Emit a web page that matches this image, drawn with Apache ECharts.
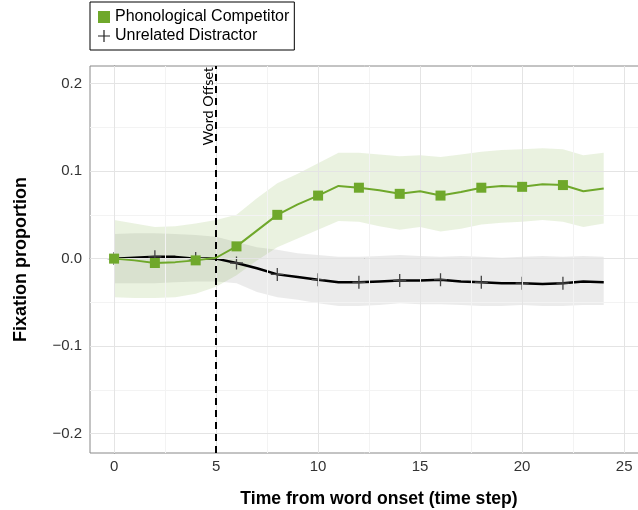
<!DOCTYPE html>
<html><head><meta charset="utf-8">
<script src="https://cdn.jsdelivr.net/npm/echarts@6/dist/echarts.min.js"></script>
<style>html,body{margin:0;padding:0;background:#fff}#c{width:638px;height:510px}</style>
</head><body><div id="c"></div>
<script>
// ---- data ----
const steps = [0,1,2,3,4,5,6,7,8,9,10,11,12,13,14,15,16,17,18,19,20,21,22,23,24];
const competitor      = [0, -0.002, -0.005, -0.004, -0.002, 0.001, 0.014, 0.032, 0.050, 0.062, 0.072, 0.083, 0.081, 0.078, 0.074, 0.077, 0.072, 0.076, 0.081, 0.083, 0.082, 0.085, 0.084, 0.077, 0.080];
const competitorUpper = [0.044, 0.040, 0.036, 0.037, 0.040, 0.044, 0.050, 0.069, 0.086, 0.097, 0.109, 0.121, 0.121, 0.119, 0.117, 0.118, 0.116, 0.119, 0.122, 0.124, 0.125, 0.126, 0.125, 0.118, 0.121];
const competitorLower = [-0.044, -0.045, -0.045, -0.044, -0.040, -0.032, -0.019, -0.002, 0.013, 0.023, 0.033, 0.043, 0.042, 0.037, 0.033, 0.036, 0.031, 0.034, 0.039, 0.041, 0.042, 0.044, 0.042, 0.036, 0.040];
const distractor      = [0, 0.001, 0.002, 0.002, 0.000, 0.000, -0.005, -0.011, -0.018, -0.021, -0.024, -0.027, -0.027, -0.026, -0.025, -0.025, -0.024, -0.026, -0.027, -0.028, -0.028, -0.029, -0.028, -0.026, -0.027];
const distractorUpper = [0.028, 0.029, 0.029, 0.028, 0.027, 0.025, 0.019, 0.013, 0.010, 0.006, 0.004, 0.002, 0.002, 0.003, 0.004, 0.003, 0.002, 0.003, 0.002, 0.001, 0.002, 0.003, 0.002, 0.003, 0.002];
const distractorLower = [-0.028, -0.028, -0.028, -0.027, -0.026, -0.026, -0.028, -0.038, -0.044, -0.047, -0.051, -0.054, -0.054, -0.053, -0.051, -0.052, -0.052, -0.053, -0.054, -0.054, -0.053, -0.054, -0.054, -0.053, -0.053];
const markerSteps = [0,2,4,6,8,10,12,14,16,18,20,22];
const wordOffset = 5;
const xTicks = [0,5,10,15,20,25];
const xMinor = [2.5,7.5,12.5,17.5,22.5,27.5];
const yTicks = [-0.2,-0.1,0,0.1,0.2];
const yMinor = [-0.15,-0.05,0.05,0.15];
const seriesNames = ['Phonological Competitor','Unrelated Distractor'];

// ---- build ----
const pairs = (arr) => steps.map((s,i)=>[s,arr[i]]);
const GREEN = '#6fa82b';
const PLUS = 'path://M4.5,0h1v10h-1z M0,4.5h10v1h-10z';
const fmtY = v => (v < 0 ? '\u2212' : '') + Math.abs(v).toFixed(1);

function bandSeries(upper, lower, color, z){
  return {
    type:'custom', z:z, silent:true,
    data:[0],
    encode:{x:-1, y:-1},
    renderItem:(params, api) => {
      const pts = [];
      steps.forEach((s,i)=>pts.push(api.coord([s, upper[i]])));
      for (let i = steps.length-1; i >= 0; i--) pts.push(api.coord([steps[i], lower[i]]));
      return {type:'polygon', shape:{points:pts}, style:{fill:color}};
    }
  };
}

const chart = echarts.init(document.getElementById('c'), null, {renderer:'canvas'});
chart.setOption({
  animation:false,
  backgroundColor:'#fff',
  textStyle:{fontFamily:'Liberation Sans, Arial, sans-serif'},
  grid:{left:90, top:66, width:578, height:387, outerBoundsMode:'none', containLabel:false,
        show:true, borderColor:'#888', borderWidth:1, backgroundColor:'transparent'},
  legend:{
    orient:'vertical', left:90, top:2,
    padding:[7,5,6,8], itemGap:3, itemWidth:12, itemHeight:12,
    borderColor:'#000', borderWidth:1, borderRadius:0, backgroundColor:'#fff',
    textStyle:{fontSize:16, color:'#000', fontFamily:'Liberation Sans, Arial, sans-serif'},
    data:[
      {name:seriesNames[0], icon:'rect', itemStyle:{color:GREEN}},
      {name:seriesNames[1], icon:PLUS, itemStyle:{color:'#222'}}
    ]
  },
  xAxis:{
    type:'value', min:-1.18, max:27.15,
    name:'Time from word onset (time step)', nameLocation:'middle', nameGap:37,
    nameTextStyle:{fontSize:17.6, fontWeight:'bold', color:'#000'},
    axisLine:{show:true, lineStyle:{color:'#777', width:1}},
    axisTick:{show:true, length:4, customValues:xTicks, lineStyle:{color:'#777'}},
    axisLabel:{customValues:xTicks, fontSize:15, color:'#333', margin:6},
    splitLine:{show:false}
  },
  yAxis:{
    type:'value', min:-0.222, max:0.220,
    name:'Fixation proportion', nameLocation:'middle', nameGap:60, nameRotate:90,
    nameTextStyle:{fontSize:18, fontWeight:'bold', color:'#000'},
    axisLine:{show:true, lineStyle:{color:'#777', width:1}},
    axisTick:{show:true, length:4, customValues:yTicks, lineStyle:{color:'#777'}},
    axisLabel:{customValues:yTicks, fontSize:15, color:'#333', margin:8, formatter:fmtY},
    splitLine:{show:false}
  },
  series:[
    { // grid lines
      type:'line', data:[], z:0, silent:true, symbol:'none',
      markLine:{
        silent:true, symbol:'none', label:{show:false}, animation:false,
        data:[
          ...xMinor.map(v=>({xAxis:v, lineStyle:{color:'#f3f3f3', width:1, type:'solid'}})),
          ...yMinor.map(v=>({yAxis:v, lineStyle:{color:'#f3f3f3', width:1, type:'solid'}})),
          ...xTicks.map(v=>({xAxis:v, lineStyle:{color:'#e4e4e4', width:1, type:'solid'}})),
          ...yTicks.map(v=>({yAxis:v, lineStyle:{color:'#e4e4e4', width:1, type:'solid'}}))
        ]
      }
    },
    bandSeries(distractorUpper, distractorLower, 'rgba(0,0,0,0.08)', 1),
    bandSeries(competitorUpper, competitorLower, 'rgba(112,168,45,0.15)', 2),
    {
      type:'line', name:seriesNames[1], data:pairs(distractor), z:4,
      lineStyle:{color:'#000', width:2.5}, itemStyle:{color:'#444'},
      showAllSymbol:true,
      symbol:(v)=> markerSteps.includes(v[0]) ? PLUS : 'none', symbolSize:13
    },
    {
      type:'line', name:seriesNames[0], data:pairs(competitor), z:5,
      lineStyle:{color:GREEN, width:2}, itemStyle:{color:GREEN},
      showAllSymbol:true,
      symbol:(v)=> markerSteps.includes(v[0]) ? 'rect' : 'none', symbolSize:10
    },
    { // word offset line
      type:'line', data:[], z:6, silent:true,
      markLine:{
        silent:true, symbol:'none', animation:false,
        lineStyle:{color:'#000', width:2, type:[7,5]},
        label:{show:true, position:'insideEndTop', formatter:'Word Offset', fontSize:14.3, color:'#000', fontFamily:'Lato, sans-serif', distance:1},
        data:[{xAxis:wordOffset}]
      }
    }
  ]
});
</script></body></html>
